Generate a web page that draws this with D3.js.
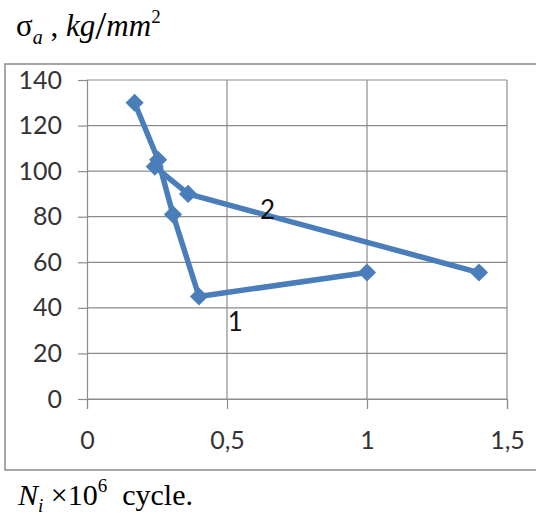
<!DOCTYPE html>
<html><head><meta charset="utf-8">
<script src="https://cdn.jsdelivr.net/npm/d3@7"></script>
<style>body{margin:0;background:#fff}svg{display:block}</style>
</head><body>
<script>
const series1 = [{x:0.17,y:130},{x:0.254,y:105},{x:0.307,y:81},{x:0.40,y:45},{x:1.0,y:55.5}];
const series2 = [{x:0.242,y:102},{x:0.361,y:90},{x:1.40,y:55.5}];
const seriesLabels = [{t:"1",x:0.53,y:34},{t:"2",x:0.645,y:83}];
const xTicks = [0,0.5,1,1.5];
const yTicks = [0,20,40,60,80,100,120,140];

const W=536,H=515;
const svg=d3.select("body").append("svg").attr("width",W).attr("height",H);
const x=d3.scaleLinear().domain([0,1.5]).range([87,507]);
const y=d3.scaleLinear().domain([0,140]).range([399,80]);
const grid="#8c8c8c", blue="#4a7ebb";
const serif="Liberation Serif, Times New Roman, serif";

svg.append("rect").attr("x",5).attr("y",64).attr("width",540).attr("height",406)
  .attr("fill","#fff").attr("stroke","#8a8a8a").attr("stroke-width",1.5);

svg.append("g").selectAll("line").data(yTicks).join("line")
  .attr("x1",x(0)).attr("x2",x(1.5)).attr("y1",d=>y(d)).attr("y2",d=>y(d))
  .attr("stroke",grid).attr("stroke-width",1.2);
svg.append("g").selectAll("line").data(xTicks.slice(1)).join("line")
  .attr("x1",d=>x(d)).attr("x2",d=>x(d)).attr("y1",y(140)).attr("y2",y(0))
  .attr("stroke",grid).attr("stroke-width",1.2);

const fontTick="Lato, Open Sans, sans-serif";
const yAxis=svg.append("g").attr("transform",`translate(${x(0)},0)`)
  .call(d3.axisLeft(y).tickValues(yTicks).tickSize(9).tickPadding(16).tickFormat(d3.format("d")));
const xAxis=svg.append("g").attr("transform",`translate(0,${y(0)})`)
  .call(d3.axisBottom(x).tickValues(xTicks).tickSize(10).tickPadding(22).tickFormat(d=>String(d).replace(".",",")));
[yAxis,xAxis].forEach(a=>{
  a.attr("font-family",fontTick).attr("font-size",25);
  a.select(".domain").attr("stroke",grid).attr("stroke-width",1.2);
  a.selectAll(".tick line").attr("stroke",grid).attr("stroke-width",1.2);
  a.selectAll("text").attr("fill","#333");
});

const line=d3.line().x(d=>x(d.x)).y(d=>y(d.y));
const sym=d3.symbol().type(d3.symbolSquare).size(165);
[series1,series2].forEach(s=>{
  svg.append("path").datum(s).attr("d",line).attr("fill","none")
    .attr("stroke",blue).attr("stroke-width",5.5).attr("stroke-linejoin","round");
  svg.append("g").selectAll("path").data(s).join("path")
    .attr("transform",d=>`translate(${x(d.x)},${y(d.y)}) rotate(45)`).attr("d",sym).attr("fill",blue);
});

svg.append("g").selectAll("text").data(seriesLabels).join("text")
  .attr("x",d=>x(d.x)).attr("y",d=>y(d.y)).attr("text-anchor","middle").attr("dy","0.35em")
  .attr("font-family",fontTick).attr("font-size",26).attr("fill","#111").text(d=>d.t);

const t=svg.append("text").attr("x",16).attr("y",36).attr("font-family",serif).attr("font-size",31).attr("fill","#000");
t.append("tspan").text("σ");
t.append("tspan").attr("dy",8).attr("font-style","italic").attr("font-size",20).text("a");
t.append("tspan").attr("dy",-8).text(" , ");
t.append("tspan").attr("font-style","italic").text("kg");
t.append("tspan").attr("font-size",40).attr("dy",3).text("/");
t.append("tspan").attr("dy",-3).attr("font-style","italic").text("mm");
t.append("tspan").attr("dy",-13).attr("font-size",19).text("2");

const b=svg.append("text").attr("x",18).attr("y",505).attr("font-family",serif).attr("font-size",30).attr("fill","#000");
b.append("tspan").attr("font-style","italic").text("N");
b.append("tspan").attr("dy",7).attr("font-style","italic").attr("font-size",19).text("i");
b.append("tspan").attr("dy",-7).text("\u00a0×10");
b.append("tspan").attr("dy",-13).attr("font-size",19).text("6");
b.append("tspan").attr("dy",13).text("\u00a0\u00a0cycle.");
</script>
</body></html>
